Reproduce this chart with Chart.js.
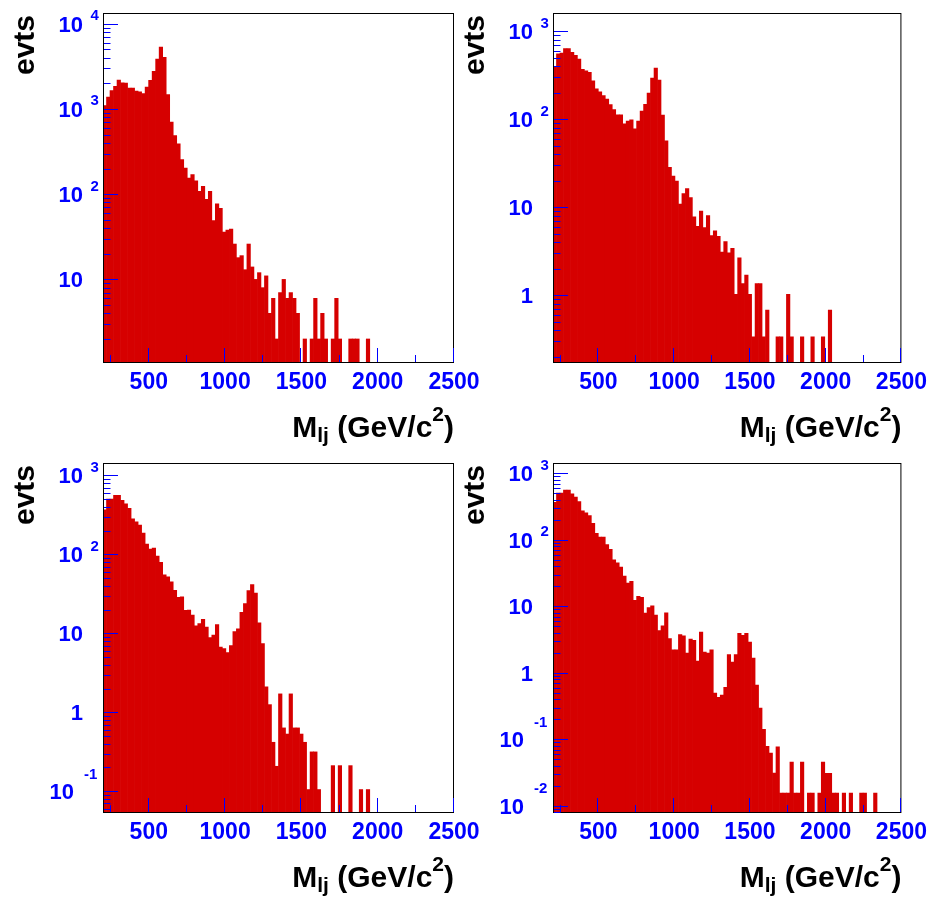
<!DOCTYPE html>
<html><head><meta charset="utf-8">
<script src="https://cdn.jsdelivr.net/npm/chart.js@4/dist/chart.umd.min.js"></script>
<style>
html,body{margin:0;padding:0;background:#fff;}
#wrap{position:relative;width:933px;height:901px;overflow:hidden;background:#fff;}
canvas{position:absolute;left:0;top:0;}
</style></head><body><div id="wrap">
<canvas id="c1" width="933" height="901"></canvas>
<canvas id="c2" width="933" height="901"></canvas>
<canvas id="c3" width="933" height="901"></canvas>
<canvas id="c4" width="933" height="901"></canvas>
</div>
<script>
// histogram binning: 100 bins of 23 GeV/c^2 from 200 to 2500
const binLow = 200, binWidth = 23, nBins = 100;
const binCenters = Array.from({length: nBins}, (_, i) => binLow + binWidth * (i + 0.5));
const xTickValues = [500, 1000, 1500, 2000, 2500];
const xMinorTickValues = [250, 750, 1250, 1750, 2250];

const p1Counts = [1096,1374,1648,1837,2178,2027,2011,1754,1754,1618,1589,1518,1804,2162,2756,3846,5323,4024,1479,699,
  487,389,255,203,154,170,143,108,124,87,108,49,77,68,36,38,39,26,18,19,
  13,26,14,10,12,8,11,4,6,2,7,10,6,7,6,4,null,2,null,2,
  6,2,4,2,null,2,6,2,null,null,2,2,2,null,null,2];
const p2Counts = [400,557,567,636,636,577,533,485,370,357,342,275,223,206,187,170,147,129,113,113,
  89,96,99,78,96,124,148,199,295,383,280,112,57,28.5,22.7,19.9,10.9,14.4,16.4,12.9,
  7.8,6.1,9.1,5.9,8.1,4.8,5.4,4.7,3.1,4.1,3.05,3.42,1.03,2.68,1.36,1.70,1.03,0.339,1.36,1.36,
  0.339,0.68,null,null,0.339,0.339,null,1.03,0.339,null,null,0.339,null,null,0.339,null,null,0.339,null,0.68];
const p3Counts = [367,501,501,558,558,483,438,382,282,259,235,186,135,117,120,95,79,55,52,45,
  35,28.6,29,19.5,19.7,17,12.4,13.3,15,12,8.8,9.5,12.9,6.7,6.4,5.7,7.0,10.5,11.4,18.4,
  23.8,34.7,41.3,32.4,13.6,7.4,2.1,1.25,0.417,0.207,1.71,0.634,0.53,1.71,0.634,0.634,0.53,0.417,0.105,0.315,
  0.315,0.105,null,null,null,0.211,null,0.211,null,null,0.211,null,null,0.105,null,0.105];
const p4Counts = [366,506,506,561,561,494,441,375,274,256,231,177,125,110,110,85,72,50,45,39,
  28.5,22.4,23.7,12.3,14.1,13.6,7.9,9.6,10.2,7.4,4.3,5.1,8.0,3.26,2.22,2.22,3.74,3.61,1.98,3.22,
  3.07,1.50,4.1,2.05,1.98,2.22,0.495,0.427,0.462,0.603,1.87,1.45,1.87,3.92,3.66,3.92,2.90,1.67,0.653,0.294,
  0.141,0.078,0.062,0.031,0.077,0.0155,0.0155,0.0155,0.0454,0.0155,0.0155,0.0454,null,0.0155,0.0155,null,0.0155,0.0454,0.0306,0.0306,
  0.0155,0.0155,null,0.0155,null,0.0155,null,null,0.0155,0.0155,null,null,0.0155];

const p1YExponents = [1, 2, 3, 4];
const p2YExponents = [0, 1, 2, 3];
const p3YExponents = [-1, 0, 1, 2, 3];
const p4YExponents = [-2, -1, 0, 1, 2, 3];

const yTitle = 'evts';
const xTitleParts = ['M', 'lj', ' (GeV/c', '2', ')'];

const FONT = '"Liberation Sans", Arial, Helvetica, sans-serif';
const BLUE = '#0000ff';
const FILL = '#d60000';
const X_AXIS_H = 40;

const panels = [
  {id:'c1', values:p1Counts, yMin:1.045, yMax:13360, exps:p1YExponents, pad:{left:103, top:13, right:479, bottom:538 - X_AXIS_H}},
  {id:'c2', values:p2Counts, yMin:0.1706, yMax:1618, exps:p2YExponents, pad:{left:553, top:13, right:29, bottom:538 - X_AXIS_H}},
  {id:'c3', values:p3Counts, yMin:0.053, yMax:1436, exps:p3YExponents, pad:{left:103, top:463, right:479, bottom:88 - X_AXIS_H}},
  {id:'c4', values:p4Counts, yMin:0.00776, yMax:1433, exps:p4YExponents, pad:{left:553, top:463, right:29, bottom:88 - X_AXIS_H}}
];

const rootStyle = {
  id: 'rootStyle',
  afterDatasetsDraw(chart, args, opts) {
    const {ctx, chartArea: a} = chart;
    const x = chart.scales.x, y = chart.scales.y;
    ctx.save();
    // frame
    ctx.strokeStyle = '#000'; ctx.lineWidth = 1;
    ctx.strokeRect(a.left + 0.5, a.top + 0.5, a.right - a.left - 1, a.bottom - a.top - 1);
    // ticks
    ctx.strokeStyle = BLUE; ctx.beginPath();
    const lo = Math.floor(Math.log10(y.min)), hi = Math.ceil(Math.log10(y.max));
    for (let k = lo; k <= hi; k++) {
      for (let m = 1; m <= 9; m++) {
        const v = m * Math.pow(10, k);
        if (v < y.min || v > y.max) continue;
        const py = Math.round(y.getPixelForValue(v)) + 0.5;
        ctx.moveTo(a.left + 1, py); ctx.lineTo(a.left + (m === 1 ? 15 : 7.5), py);
      }
    }
    xTickValues.forEach(v => { const px = Math.round(x.getPixelForValue(v)) - 0.5; ctx.moveTo(px, a.bottom - 1); ctx.lineTo(px, a.bottom - 15); });
    xMinorTickValues.forEach(v => { const px = Math.round(x.getPixelForValue(v)) - 0.5; ctx.moveTo(px, a.bottom - 1); ctx.lineTo(px, a.bottom - 8); });
    ctx.stroke();
    // y tick labels (ROOT style 10^n)
    ctx.fillStyle = BLUE; ctx.textBaseline = 'alphabetic';
    opts.exps.forEach(e => {
      const ty = y.getPixelForValue(Math.pow(10, e));
      ctx.font = 'bold 22px ' + FONT; ctx.textAlign = 'right';
      if (e === 0) { ctx.fillText('1', a.left - 20, ty + 8); return; }
      if (e === 1) { ctx.fillText('10', a.left - 20, ty + 8); return; }
      if (e > 0) {
        ctx.fillText('10', a.left - 20, ty + 8);
        ctx.font = 'bold 15px ' + FONT; ctx.textAlign = 'left';
        ctx.fillText(String(e), a.left - 12.5, ty - 3.5);
      } else {
        ctx.fillText('10', a.left - 29, ty + 8);
        ctx.font = 'bold 15px ' + FONT; ctx.textAlign = 'left';
        ctx.fillText(String(e), a.left - 19, ty - 12.5);
      }
    });
    // y title
    ctx.fillStyle = '#000';
    ctx.save();
    ctx.translate(a.left - 69, a.top + 2);
    ctx.rotate(-Math.PI / 2);
    ctx.font = 'bold 30px ' + FONT; ctx.textAlign = 'right';
    ctx.fillText(yTitle, 0, 0);
    ctx.restore();
    // x title with sub/superscript
    const big = 'bold 30px ' + FONT, small = 'bold 21px ' + FONT;
    const parts = [
      {t: xTitleParts[0], f: big, dy: 0},
      {t: xTitleParts[1], f: small, dy: 5},
      {t: xTitleParts[2], f: big, dy: 0},
      {t: xTitleParts[3], f: small, dy: -16},
      {t: xTitleParts[4], f: big, dy: 0}
    ];
    let total = 0;
    parts.forEach(p => { ctx.font = p.f; p.w = ctx.measureText(p.t).width; total += p.w; });
    let cx = a.right - total;
    const base = a.bottom + 73.5;
    ctx.textAlign = 'left';
    parts.forEach(p => { ctx.font = p.f; ctx.fillText(p.t, cx, base + p.dy); cx += p.w; });
    ctx.restore();
  }
};

panels.forEach(p => {
  new Chart(document.getElementById(p.id), {
    type: 'bar',
    data: {
      datasets: [{
        data: binCenters.map((c, i) => ({x: c, y: p.values[i] === undefined ? null : p.values[i]})),
        backgroundColor: FILL,
        borderWidth: 0,
        barPercentage: 1,
        categoryPercentage: 1
      }]
    },
    options: {
      responsive: false,
      animation: false,
      events: [],
      devicePixelRatio: 1,
      layout: {padding: p.pad},
      plugins: {legend: {display: false}, tooltip: {enabled: false}, rootStyle: {exps: p.exps}},
      scales: {
        x: {
          type: 'linear', min: 200, max: 2500, offset: false,
          afterBuildTicks: s => { s.ticks = xTickValues.map(v => ({value: v})); },
          afterFit: s => { s.height = X_AXIS_H; },
          grid: {display: false, drawTicks: false},
          border: {display: false},
          ticks: {color: BLUE, padding: 6, autoSkip: false, maxRotation: 0,
                  font: {family: FONT, size: 23, weight: 'bold'}, callback: v => String(v)}
        },
        y: {
          type: 'logarithmic', min: p.yMin, max: p.yMax,
          afterFit: s => { s.width = 0; },
          grid: {display: false, drawTicks: false},
          border: {display: false},
          ticks: {display: false}
        }
      }
    },
    plugins: [rootStyle]
  });
});
</script>
</body></html>
